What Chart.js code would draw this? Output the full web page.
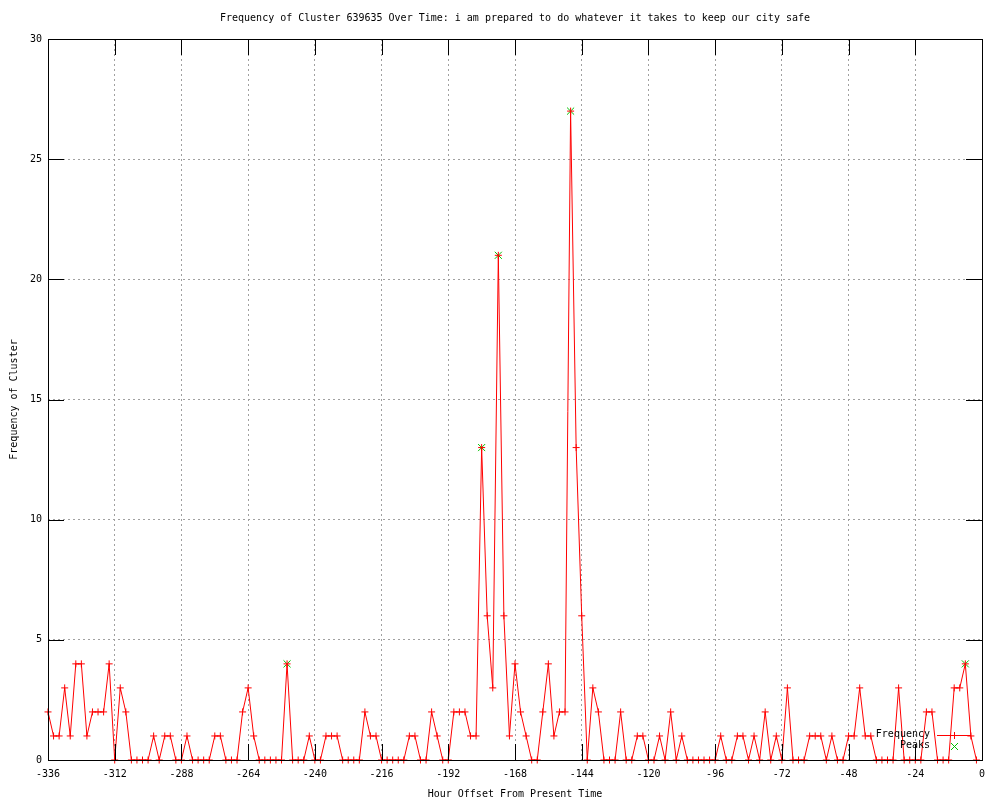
<!DOCTYPE html>
<html>
<head>
<meta charset="utf-8">
<script src="https://cdn.jsdelivr.net/npm/chart.js@4.4.1/dist/chart.umd.min.js"></script>
<style>
  html, body { margin: 0; padding: 0; background: #fff; }
  #wrap { width: 1000px; height: 800px; }
</style>
</head>
<body>
<div id="wrap"><canvas id="clusterChart" width="1000" height="800"></canvas></div>
<script>
// Data (one point every 2 hours)
const hourOffsets = [
  -336,-334,-332,-330,-328,-326,-324,-322,-320,-318,-316,-314,
  -312,-310,-308,-306,-304,-302,-300,-298,-296,-294,-292,-290,
  -288,-286,-284,-282,-280,-278,-276,-274,-272,-270,-268,-266,
  -264,-262,-260,-258,-256,-254,-252,-250,-248,-246,-244,-242,
  -240,-238,-236,-234,-232,-230,-228,-226,-224,-222,-220,-218,
  -216,-214,-212,-210,-208,-206,-204,-202,-200,-198,-196,-194,
  -192,-190,-188,-186,-184,-182,-180,-178,-176,-174,-172,-170,
  -168,-166,-164,-162,-160,-158,-156,-154,-152,-150,-148,-146,
  -144,-142,-140,-138,-136,-134,-132,-130,-128,-126,-124,-122,
  -120,-118,-116,-114,-112,-110,-108,-106,-104,-102,-100,-98,
  -96,-94,-92,-90,-88,-86,-84,-82,-80,-78,-76,-74,
  -72,-70,-68,-66,-64,-62,-60,-58,-56,-54,-52,-50,
  -48,-46,-44,-42,-40,-38,-36,-34,-32,-30,-28,-26,
  -24,-22,-20,-18,-16,-14,-12,-10,-8,-6,-4,-2
];
const frequency = [
  2,1,1,3,1,4,4,1,2,2,2,4,
  0,3,2,0,0,0,0,1,0,1,1,0,
  0,1,0,0,0,0,1,1,0,0,0,2,
  3,1,0,0,0,0,0,4,0,0,0,1,
  0,0,1,1,1,0,0,0,0,2,1,1,
  0,0,0,0,0,1,1,0,0,2,1,0,
  0,2,2,2,1,1,13,6,3,21,6,1,
  4,2,1,0,0,2,4,1,2,2,27,13,
  6,0,3,2,0,0,0,2,0,0,1,1,
  0,0,1,0,2,0,1,0,0,0,0,0,
  0,1,0,0,1,1,0,1,0,2,0,1,
  0,3,0,0,0,1,1,1,0,1,0,0,
  1,1,3,1,1,0,0,0,0,3,0,0,
  0,0,2,2,0,0,0,3,3,4,1,0
];
const peakHours = [-250, -180, -174, -148, -6];
const peakValues = [4, 13, 21, 27, 4];
const xTickStep = 24;
const yTickStep = 5;

const chartTitle = 'Frequency of Cluster 639635 Over Time: i am prepared to do whatever it takes to keep our city safe';
const FONT = '"DejaVu Sans Mono", "Liberation Mono", monospace';

// Frame, inward tick marks, title and key drawn gnuplot style
const gnuplotFrame = {
  id: 'gnuplotFrame',
  afterDatasetsDraw(chart) {
    const { ctx, chartArea: a, scales } = chart;
    const tickLen = 16;
    ctx.save();
    ctx.strokeStyle = '#000';
    ctx.lineWidth = 1;
    ctx.beginPath();
    scales.x.ticks.forEach(t => {
      const px = Math.round(scales.x.getPixelForValue(t.value)) + 0.5;
      ctx.moveTo(px, a.bottom); ctx.lineTo(px, a.bottom - tickLen);
      ctx.moveTo(px, a.top); ctx.lineTo(px, a.top + tickLen);
    });
    scales.y.ticks.forEach(t => {
      const py = Math.round(scales.y.getPixelForValue(t.value)) + 0.5;
      ctx.moveTo(a.left, py); ctx.lineTo(a.left + tickLen, py);
      ctx.moveTo(a.right, py); ctx.lineTo(a.right - tickLen, py);
    });
    ctx.stroke();
    ctx.strokeRect(Math.round(a.left) + 0.5, Math.round(a.top) + 0.5,
      Math.round(a.right - a.left), Math.round(a.bottom - a.top));

    // title
    ctx.fillStyle = '#000';
    ctx.font = '10px ' + FONT;
    ctx.textAlign = 'center';
    ctx.textBaseline = 'middle';
    ctx.fillText(chartTitle, (a.left + a.right) / 2, 18);

    // key in the lower right corner
    const ds = chart.data.datasets;
    const textX = 930, sampleL = 937, sampleR = 971, mid = 954;
    const rows = [735, 746];
    ctx.textAlign = 'right';
    ds.forEach((d, i) => {
      const y = rows[i];
      ctx.fillStyle = '#000';
      ctx.fillText(d.label, textX, y - 1);
      ctx.strokeStyle = d.borderColor;
      ctx.beginPath();
      if (d.showLine !== false) {
        ctx.moveTo(sampleL, y + 0.5); ctx.lineTo(sampleR, y + 0.5);
      }
      if (d.pointStyle === 'cross') {
        ctx.moveTo(mid + 0.5, y - 3); ctx.lineTo(mid + 0.5, y + 4);
        ctx.moveTo(mid - 3, y + 0.5); ctx.lineTo(mid + 4, y + 0.5);
      } else {
        ctx.moveTo(mid - 3, y - 3); ctx.lineTo(mid + 4, y + 4);
        ctx.moveTo(mid + 4, y - 3); ctx.lineTo(mid - 3, y + 4);
      }
      ctx.stroke();
    });
    ctx.restore();
  }
};

const ctx = document.getElementById('clusterChart').getContext('2d');
const clusterChart = new Chart(ctx, {
  type: 'line',
  data: {
    datasets: [{
      label: 'Frequency',
      data: hourOffsets.map((h, i) => ({ x: h, y: frequency[i] })),
      borderColor: '#ff0000',
      backgroundColor: '#ff0000',
      borderWidth: 1,
      tension: 0,
      pointStyle: 'cross',
      pointRadius: 3.5,
      pointBorderWidth: 1,
      clip: false
    }, {
      label: 'Peaks',
      data: peakHours.map((h, i) => ({ x: h, y: peakValues[i] })),
      borderColor: '#00c000',
      backgroundColor: '#00c000',
      showLine: false,
      pointStyle: 'crossRot',
      pointRadius: 5,
      pointBorderWidth: 1,
      clip: false
    }]
  },
  options: {
    responsive: false,
    animation: false,
    devicePixelRatio: 1,
    layout: { padding: { top: 39, right: 18, left: 0, bottom: 0 } },
    plugins: {
      legend: { display: false },
      title: { display: false },
      tooltip: { enabled: false }
    },
    scales: {
      x: {
        type: 'linear',
        min: -336,
        max: 0,
        afterFit: scale => { scale.height = 40; },
        ticks: {
          stepSize: xTickStep,
          color: '#000',
          padding: 8,
          maxRotation: 0,
          font: { family: FONT, size: 10 }
        },
        grid: { color: '#a0a0a0', lineWidth: 1, drawTicks: false },
        border: { display: false, dash: [2, 3] },
        title: {
          display: true,
          text: 'Hour Offset From Present Time',
          color: '#000',
          padding: { top: 1, bottom: 0 },
          font: { family: FONT, size: 10 }
        }
      },
      y: {
        min: 0,
        max: 30,
        afterFit: scale => { scale.width = 48; },
        ticks: {
          stepSize: yTickStep,
          color: '#000',
          padding: 6,
          font: { family: FONT, size: 10 }
        },
        grid: { color: '#a0a0a0', lineWidth: 1, drawTicks: false },
        border: { display: false, dash: [2, 3] },
        title: {
          display: true,
          text: 'Frequency of Cluster',
          color: '#000',
          padding: { top: 8, bottom: 0 },
          font: { family: FONT, size: 10 }
        }
      }
    }
  },
  plugins: [gnuplotFrame]
});
</script>
</body>
</html>
